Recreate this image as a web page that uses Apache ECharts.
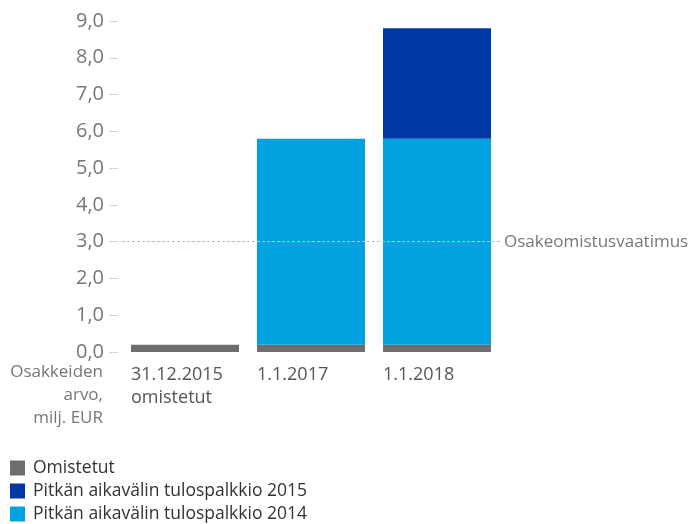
<!DOCTYPE html>
<html>
<head>
<meta charset="utf-8">
<script src="https://cdn.jsdelivr.net/npm/echarts@6/dist/echarts.min.js"></script>
<style>
  html, body { margin: 0; padding: 0; background: #fff; }
  #chart { width: 693px; height: 524px; }
</style>
</head>
<body>
<div id="chart"></div>
<script>
var categories = ['31.12.2015\nomistetut', '1.1.2017', '1.1.2018'];
var omistetut = [0.2, 0.2, 0.2];
var tulospalkkio2014 = [0, 5.6, 5.6];
var tulospalkkio2015 = [0, 0, 3.0];
var vaatimus = 3.0;
var legendNames = ['Omistetut', 'Pitkän aikavälin tulospalkkio 2015', 'Pitkän aikavälin tulospalkkio 2014'];

var font = '"Open Sans", "Noto Sans", sans-serif';
var chart = echarts.init(document.getElementById('chart'), null, { renderer: 'canvas' });

var option = {
  animation: false,
  textStyle: { fontFamily: font },
  grid: { left: 122, right: 193, top: 21, bottom: 172 },
  legend: {
    orient: 'vertical',
    left: 10,
    top: 459,
    height: 120,
    padding: 0,
    icon: 'rect',
    itemWidth: 15,
    itemHeight: 15,
    itemGap: 5,
    selectedMode: false,
    data: legendNames,
    textStyle: { fontSize: 17.5, lineHeight: 15, color: '#333', fontFamily: font, padding: [0, 0, 0, 3] }
  },
  xAxis: {
    type: 'category',
    data: categories,
    axisLine: { show: false },
    axisTick: { show: false },
    axisLabel: {
      margin: 11,
      formatter: function (val) {
        return val.split('\n').map(function (s) { return '{a|' + s + '}'; }).join('\n');
      },
      rich: {
        a: { width: 108, align: 'left', fontSize: 18, lineHeight: 23, color: '#555', fontFamily: font }
      }
    }
  },
  yAxis: {
    type: 'value',
    min: 0,
    max: 9,
    interval: 1,
    offset: 4,
    axisLine: { show: false },
    splitLine: { show: false },
    axisTick: { show: true, length: 9, lineStyle: { color: '#c9d7de', width: 1 } },
    axisLabel: {
      margin: 14,
      fontSize: 20,
      color: '#777',
      fontFamily: font,
      formatter: function (v) { return v.toFixed(1).replace('.', ','); }
    }
  },
  graphic: [{
    type: 'text',
    x: 103,
    y: 361,
    style: {
      text: 'Osakkeiden\narvo,\nmilj. EUR',
      align: 'right',
      verticalAlign: 'top',
      fontSize: 17,
      lineHeight: 23,
      fill: '#777',
      fontFamily: font
    }
  }],
  series: [
    {
      name: legendNames[0],
      type: 'bar',
      stack: 'total',
      barWidth: 108,
      itemStyle: { color: '#6e6e6e' },
      data: omistetut
    },
    {
      name: legendNames[2],
      type: 'bar',
      stack: 'total',
      barWidth: 108,
      itemStyle: { color: '#00a3e0' },
      data: tulospalkkio2014
    },
    {
      name: legendNames[1],
      type: 'bar',
      stack: 'total',
      barWidth: 108,
      itemStyle: { color: '#0039a6' },
      data: tulospalkkio2015,
      markLine: {
        silent: true,
        symbol: 'none',
        lineStyle: { color: '#a8c4d6', type: [3, 2], width: 1 },
        label: {
          position: 'end',
          distance: 4,
          formatter: 'Osakeomistusvaatimus',
          fontSize: 17,
          color: '#777',
          fontFamily: font
        },
        data: [{ yAxis: vaatimus }]
      }
    }
  ]
};

chart.setOption(option);
</script>
</body>
</html>
